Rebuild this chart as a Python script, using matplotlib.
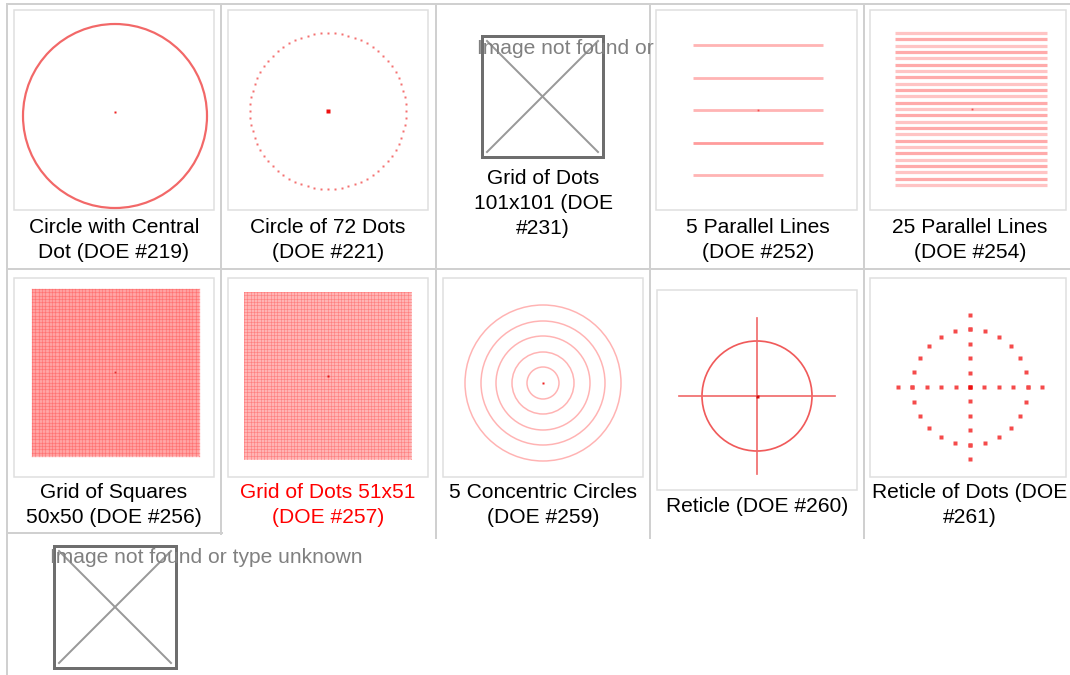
import numpy as np
import matplotlib.pyplot as plt
from matplotlib.patches import Rectangle, Circle

plt.rcParams['font.family'] = ['Liberation Sans', 'DejaVu Sans']

W, H = 1070, 675
PT = 72 / 100  # points per pixel

# caption text of each table cell
captions = [
    ["Circle with Central", "Dot (DOE #219)"],
    ["Circle of 72 Dots", "(DOE #221)"],
    ["Grid of Dots", "101x101 (DOE", "#231)"],
    ["5 Parallel Lines", "(DOE #252)"],
    ["25 Parallel Lines", "(DOE #254)"],
    ["Grid of Squares", "50x50 (DOE #256)"],
    ["Grid of Dots 51x51", "(DOE #257)"],
    ["5 Concentric Circles", "(DOE #259)"],
    ["Reticle (DOE #260)"],
    ["Reticle of Dots (DOE", "#261)"],
]
caption_colors = ['black'] * 6 + ['#ff0000'] + ['black'] * 3
missing_text = "Image not found or type unknown"

# pattern parameters read from the thumbnails (pixels)
ring_radius_219 = 92
dots_221 = 72
ring_radius_221 = 78
parallel_5 = [-65, -32, 0, 33, 65]
n_parallel_25 = 25
n_grid_256 = 50
n_grid_257 = 51
concentric_radii = [16, 31, 47, 62, 78]
reticle_radius = 55
reticle_arm = 78
reticle_dot_steps = [-5, -4, -3, -2, -1, 0, 1, 2, 3, 4, 5]
reticle_ring_angles = list(range(0, 360, 15))
reticle_dot_pitch = 14.4

fig = plt.figure(figsize=(W / 100, H / 100), dpi=100)
ax = fig.add_axes([0, 0, 1, 1])
ax.set_xlim(0, W)
ax.set_ylim(H, 0)
ax.axis('off')

# ---- table borders
grey = '#d0d0d0'
lw_b = 2 * PT
ax.plot([7, W], [4, 4], color=grey, lw=lw_b)
ax.plot([7, W], [269, 269], color=grey, lw=lw_b)
ax.plot([7, 222], [533, 533], color=grey, lw=lw_b)
ax.plot([7, 7], [4, H], color=grey, lw=lw_b)
ax.plot([221, 221], [4, 534], color=grey, lw=lw_b)
for xv in [436, 650, 864]:
    ax.plot([xv, xv], [4, 538], color=grey, lw=lw_b)

# ---- thumbnail frames
thumbs = [(14, 10, 214, 210), (228, 10, 428, 210), (656, 10, 857, 210),
          (870, 10, 1066, 210), (14, 278, 214, 477), (228, 278, 428, 477),
          (443, 278, 643, 477), (657, 290, 857, 490), (870, 278, 1066, 477)]
for x0, y0, x1, y1 in thumbs:
    ax.add_patch(Rectangle((x0, y0), x1 - x0, y1 - y0, facecolor='white',
                           edgecolor='#dedede', lw=1.5 * PT, zorder=3))

Z = 4


def dot(x, y, size, color='#ee2020'):
    ax.plot([x], [y], marker='s', ms=size * PT, mec='none', color=color, zorder=Z + 2)


# DOE 219 circle with central dot
ax.add_patch(Circle((115, 116), ring_radius_219, fill=False, ec='#f26868', lw=2.2 * PT, zorder=Z))
dot(115, 112, 2.2)

# DOE 221 circle of 72 dots
ang = np.arange(dots_221) * 2 * np.pi / dots_221
ax.plot(328 + ring_radius_221 * np.cos(ang), 111 + ring_radius_221 * np.sin(ang),
        ls='none', marker='s', ms=2.7 * PT, mec='none', color='#f47070', zorder=Z)
dot(328, 111, 4, '#ee1010')

# DOE 252 five parallel lines
for i, yo in enumerate(parallel_5):
    ax.plot([693, 823], [110 + yo, 110 + yo], color='#ff9c9c' if i == 3 else '#ffb4b4',
            lw=2.8 * PT, solid_capstyle='butt', zorder=Z)
dot(758, 110, 1.8, '#f05050')

# DOE 254 twenty-five parallel lines
for k, yy in enumerate(np.linspace(33, 185, n_parallel_25)):
    ax.plot([895, 1047], [yy, yy], color='#ffaaaa' if k % 2 else '#ffc4c4',
            lw=3.2 * PT, solid_capstyle='butt', zorder=Z)
dot(972, 109, 1.8, '#f05050')

# DOE 256 grid of squares
ax.add_patch(Rectangle((32, 289), 167, 167, facecolor='#ffa9a9', edgecolor='none', zorder=Z))
for v in np.linspace(32, 199, n_grid_256 + 1):
    ax.plot([v, v], [289, 456], color='#ff4a4a', alpha=0.35, lw=1.3 * PT, zorder=Z)
    ax.plot([32, 199], [v + 257, v + 257], color='#ff4a4a', alpha=0.35, lw=1.3 * PT, zorder=Z)
dot(115, 372, 1.8, '#e03030')

# DOE 257 grid of dots 51x51
ax.add_patch(Rectangle((244, 292), 167, 167, facecolor='#ffb4b4', edgecolor='none', zorder=Z))
for v in np.linspace(244, 411, n_grid_257):
    ax.plot([v, v], [292, 459], color='#ff5a5a', alpha=0.35, lw=1.0 * PT, zorder=Z)
    ax.plot([244, 411], [v + 48, v + 48], color='#ff5a5a', alpha=0.35, lw=1.0 * PT, zorder=Z)
dot(328, 376, 2.5, '#e01818')

# DOE 259 concentric circles
for r in concentric_radii:
    ax.add_patch(Circle((543, 383), r, fill=False, ec='#ffb3b3', lw=1.5 * PT, zorder=Z))
dot(543, 383, 2.6, '#ee2020')

# DOE 260 reticle
ax.add_patch(Circle((757, 396), reticle_radius, fill=False, ec='#f05a5a', lw=1.7 * PT, zorder=Z))
ax.plot([757 - reticle_arm, 757 + reticle_arm], [396, 396], color='#f06a6a', lw=1.7 * PT, zorder=Z)
ax.plot([757, 757], [396 - reticle_arm, 396 + reticle_arm], color='#f06a6a', lw=1.7 * PT, zorder=Z)
dot(757, 396, 3, '#d01010')

# DOE 261 reticle of dots
steps = np.array(reticle_dot_steps) * reticle_dot_pitch
mk = dict(ls='none', marker='s', ms=3.4 * PT, mec='none', color='#f54a4a', zorder=Z)
ax.plot(970 + steps, np.full(steps.size, 387), **mk)
ax.plot(np.full(steps.size, 970), 387 + steps, **mk)
ra = np.radians(reticle_ring_angles)
rr = 4 * reticle_dot_pitch
ax.plot(970 + rr * np.cos(ra), 387 + rr * np.sin(ra), **mk)
dot(970, 387, 4.5, '#ee1010')


# ---- broken image icons
def broken(x0, y0, size, text_x, text_y):
    ax.add_patch(Rectangle((x0, y0), size, size, fill=False, ec='#6e6e6e', lw=3 * PT, zorder=1))
    ax.plot([x0 + 5, x0 + size - 5], [y0 + 5, y0 + size - 5], color='#999999', lw=2 * PT, zorder=1)
    ax.plot([x0 + 5, x0 + size - 5], [y0 + size - 5, y0 + 5], color='#999999', lw=2 * PT, zorder=1)
    ax.text(text_x, text_y, missing_text, color='#808080', fontsize=21 * PT,
            ha='left', va='baseline', zorder=2)


broken(482, 36, 121, 477, 54)
broken(54, 546, 122, 50, 563)

# ---- captions
cap_x = [114, 328, 543, 758, 970, 114, 328, 543, 757, 970]
cap_y = [233, 233, 184, 233, 233, 498, 498, 498, 512, 498]
for lines, cx, cy, col in zip(captions, cap_x, cap_y, caption_colors):
    for j, line in enumerate(lines):
        ax.text(cx, cy + 25 * j, line, color=col, fontsize=21 * PT,
                ha='center', va='baseline', zorder=6)

fig.savefig('out.png', dpi=100)
